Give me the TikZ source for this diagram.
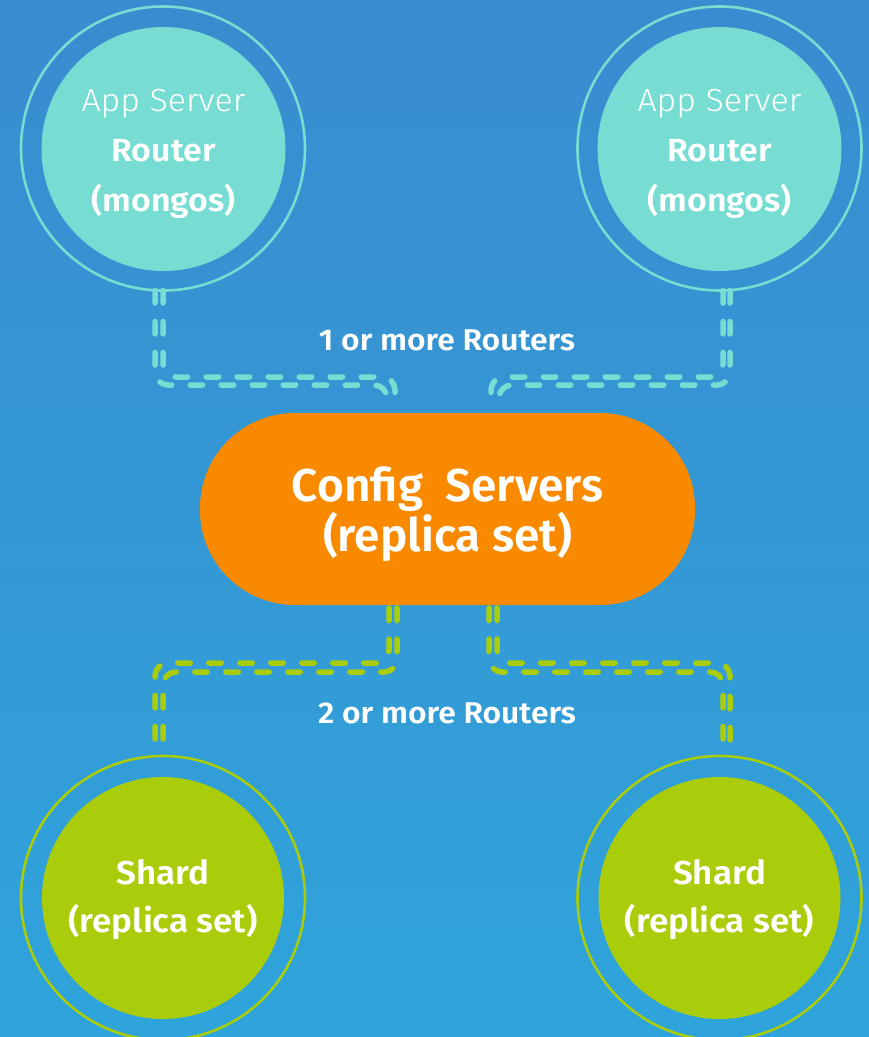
\documentclass[tikz,border=0pt]{standalone}
\usepackage{fontspec}
\setmainfont{Fira Sans}
\newfontfamily\lightf{Fira Sans Light}[FakeStretch=1.06]
\newfontfamily\semib{Fira Sans SemiBold}[FakeStretch=1.06]
\newfontfamily\semic{Fira Sans SemiBold}
\usetikzlibrary{calc}
\definecolor{bgtop}{HTML}{398CCF}
\definecolor{bgbot}{HTML}{2FA4DB}
\definecolor{tealc}{HTML}{77DDD3}
\definecolor{greenc}{HTML}{A9CC0B}
\definecolor{orangec}{HTML}{F98A00}
\tikzset{
  ring/.style={circle,draw=#1,line width=2.6pt,minimum size=284pt,inner sep=0pt,outer sep=0pt},
  disk/.style={circle,fill=#1,minimum size=244pt,inner sep=0pt,outer sep=0pt},
  txt/.style={text=white,align=center,inner sep=0pt,outer sep=0pt},
  conn/.style={draw=#1,line width=5.5pt,line cap=round,dash pattern=on 12.5pt off 18.5pt,rounded corners=13pt},
  lab/.style={text=white,font=\semib\fontsize{30}{34}\selectfont,inner sep=0pt}
}
\begin{document}
\begin{tikzpicture}[x=1pt,y=-1pt]
\shade[top color=bgtop,bottom color=bgbot] (0,0) rectangle (869,1037);
\useasboundingbox (0,0) rectangle (869,1037);
% router circles
\node[ring=tealc] (r1o) at (163,148.5) {};
\node[disk=tealc] (r1) at (163.5,149) {};
\node[txt,font=\fontsize{32}{50}\selectfont] (r1t) at (163.5,154)
  {{\lightf App Server}\\{\semib Router}\\{\semib (mongos)}};
\node[ring=tealc] (r2o) at (719.5,148.5) {};
\node[disk=tealc] (r2) at (719.5,149) {};
\node[txt,font=\fontsize{32}{50}\selectfont] (r2t) at (719.5,154)
  {{\lightf App Server}\\{\semib Router}\\{\semib (mongos)}};
% shard circles
\node[ring=greenc] (s1o) at (163,898) {};
\node[disk=greenc,minimum size=242pt] (s1) at (163,898) {};
\node[txt,font=\semib\fontsize{33}{48}\selectfont] (s1t) at (163,900) {Shard\\(replica set)};
\node[ring=greenc] (s2o) at (719.5,898) {};
\node[disk=greenc,minimum size=242pt] (s2) at (719.5,898) {};
\node[txt,font=\semib\fontsize{33}{48}\selectfont] (s2t) at (719.5,900) {Shard\\(replica set)};
% config servers
\node[fill=orangec,rounded corners=95pt,minimum width=495pt,minimum height=192pt,
  inner sep=0pt,outer sep=0pt] (cfg) at (447.5,509) {};
\node[txt,font=\semic\fontsize{46}{50}\selectfont] (cfgt) at (447.5,514)
  {Config~~Servers\\(replica set)};
% labels
\node[lab] (l1) at (447,340) {1 or more Routers};
\node[lab] (l2) at (447,713) {2 or more Routers};
% top connectors
\draw[conn=tealc] ($(r1o.south)+(-8,0)$) |- ($(cfg.north)+(-60.5,-28)$) -- ($(cfg.north)+(-60.5,-3)$);
\draw[conn=tealc] ($(r1o.south)+(0,0)$) |- ($(cfg.north)+(-52.5,-36)$) -- ($(cfg.north)+(-52.5,-3)$);
\draw[conn=tealc] ($(r2o.south)+(10.5,0)$) |- ($(cfg.north)+(51.5,-28)$) -- ($(cfg.north)+(51.5,-3)$);
\draw[conn=tealc] ($(r2o.south)+(3.5,0)$) |- ($(cfg.north)+(43.5,-36)$) -- ($(cfg.north)+(43.5,-3)$);
% bottom connectors
\draw[conn=greenc] ($(cfg.south)+(-58.5,3)$) |- ($(s1o.north)+(-8,-93)$) -- ($(s1o.north)+(-8,0)$);
\draw[conn=greenc] ($(cfg.south)+(-50.5,3)$) |- ($(s1o.north)+(0,-84)$) -- ($(s1o.north)+(0,0)$);
\draw[conn=greenc] ($(cfg.south)+(41.5,3)$) |- ($(s2o.north)+(3.5,-84)$) -- ($(s2o.north)+(3.5,0)$);
\draw[conn=greenc] ($(cfg.south)+(49.5,3)$) |- ($(s2o.north)+(10.5,-93)$) -- ($(s2o.north)+(10.5,0)$);
\end{tikzpicture}
\end{document}
